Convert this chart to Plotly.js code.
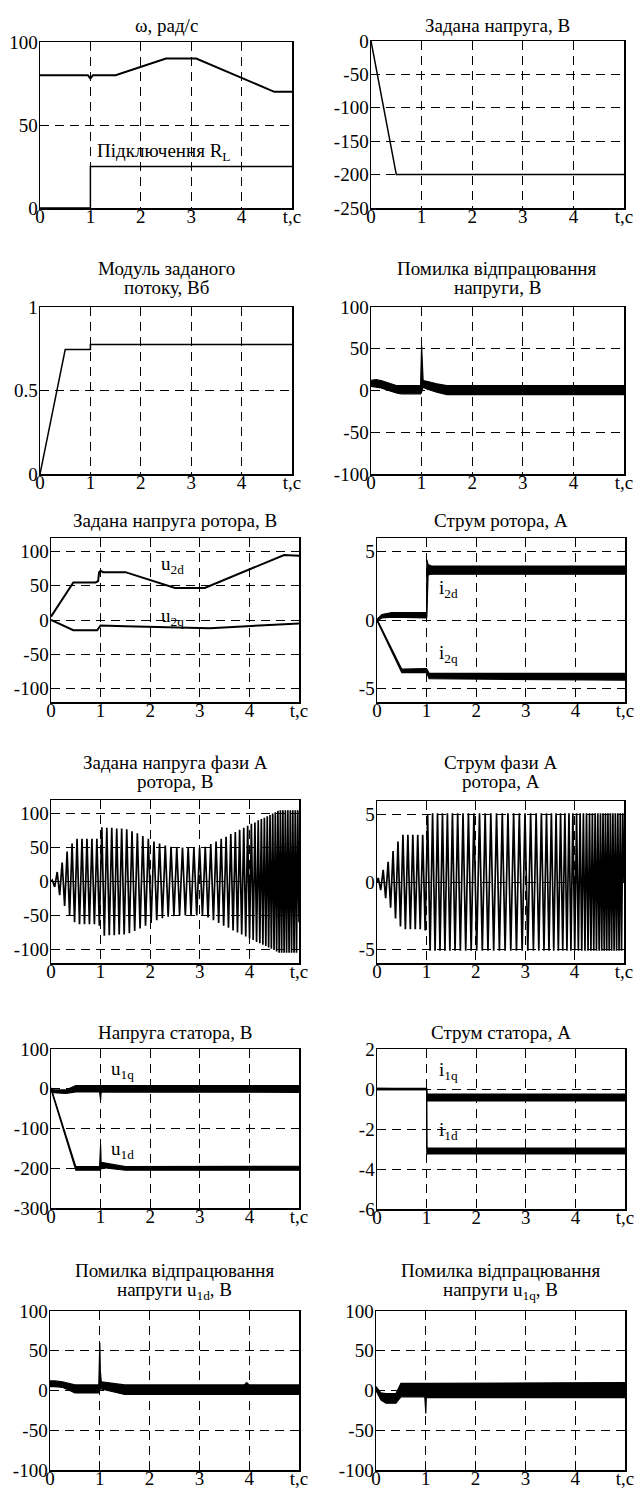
<!DOCTYPE html>
<html><head><meta charset="utf-8">
<script src="https://cdn.plot.ly/plotly-3.0.1.min.js"></script>
<style>html,body{margin:0;padding:0;background:#fff;}#plot{width:637px;height:1491px;}</style>
</head><body><div id="plot"></div>
<script>
// ---------- DATA ----------
const xTickVals = [0, 1, 2, 3, 4, 5];
const xTickText = ['0', '1', '2', '3', '4', 't,c'];

// 1: speed and load connection
const t_w = [0, 0.2, 0.5, 0.95, 1.0, 1.05, 1.5, 2.5, 3.1, 4.65, 5];
const w = [80, 80, 80, 80, 78, 80, 80, 90, 90, 70, 70];
const t_RL = [0, 1, 1, 5];
const RL = [0, 0, 25, 25];

// 2: reference voltage
const t_us = [0, 0.5, 5];
const u_s = [0, -200, -200];

// 3: flux reference
const t_psi = [0, 0.5, 1.0, 1.0, 5];
const psi = [0, 0.745, 0.745, 0.775, 0.775];

// 4: voltage error band
const t_eu = [0, 0.1, 0.2, 0.3, 0.4, 0.5, 0.6, 0.98, 1.0, 1.01, 1.03, 1.1, 1.3, 1.5, 2, 3, 4, 5];
const eu_hi = [12, 13, 12, 10, 8, 6, 6, 6, 54, 30, 12, 11, 8, 6, 6, 6, 6, 6];
const eu_lo = [5, 4, 3, 1, -1, -3, -4, -4, -2, 2, 4, 2, -2, -5, -5, -5, -5, -5];

// 5: rotor voltage reference
const t_u2d = [0, 0.45, 0.9, 0.95, 0.97, 1.0, 1.05, 1.5, 2.5, 3.1, 4.7, 5];
const u2d = [5, 55, 55, 57, 70, 72, 70, 70, 47, 47, 95, 94];
const t_u2q = [0, 0.45, 0.93, 1.0, 1.5, 2.5, 3.2, 4.2, 5];
const u2q = [0, -15, -15, -8, -9, -11, -12, -8, -5];

// 6: rotor current bands
const t_i2d = [0, 0.1, 0.3, 1.0, 1.005, 1.03, 1.1, 5];
const i2d_hi = [0.05, 0.4, 0.55, 0.55, 4.4, 4.05, 3.95, 3.95];
const i2d_lo = [-0.05, 0.15, 0.2, 0.15, 0.3, 3.3, 3.35, 3.35];
const t_i2q = [0, 0.5, 1.0, 1.05, 5];
const i2q_hi = [0.05, -3.6, -3.55, -3.9, -3.9];
const i2q_lo = [-0.05, -3.85, -3.85, -4.3, -4.4];

// 7, 8: phase A rotor voltage reference and current (extrema)
const t_ph = [0, 0.025, 0.075, 0.125, 0.175, 0.225, 0.275, 0.325, 0.375, 0.425, 0.475, 0.525, 0.575, 0.625, 0.675, 0.725, 0.775, 0.825, 0.875, 0.925, 0.975, 1.025, 1.075, 1.125, 1.175, 1.225, 1.275, 1.325, 1.375, 1.425, 1.475,
  1.527, 1.580, 1.633, 1.687, 1.741, 1.796, 1.851, 1.906, 1.962, 2.018, 2.075, 2.132, 2.189, 2.246, 2.304, 2.362, 2.420, 2.478,
  2.536, 2.593, 2.651, 2.708, 2.766, 2.823, 2.881, 2.938, 2.996, 3.053,
  3.110, 3.166, 3.221, 3.275, 3.328, 3.380, 3.431, 3.481, 3.530, 3.578, 3.625, 3.671, 3.716, 3.760, 3.803, 3.845, 3.886, 3.926, 3.965, 4.003, 4.040, 4.076, 4.111, 4.145, 4.178, 4.210, 4.241, 4.272, 4.302, 4.331, 4.360, 4.388, 4.416, 4.443, 4.470, 4.497, 4.523, 4.549, 4.575, 4.600, 4.625, 4.650, 4.675, 4.700,
  4.725, 4.750, 4.775, 4.800, 4.825, 4.850, 4.875, 4.900, 4.925, 4.950, 4.975, 5.0];
const u2a = [0, 2, -8, 14, -20, 28, -36, 44, -50, 56, -60, 63, -63, 63, -63, 63, -63, 63, -63, 63, -65, 80, -80, 79, -79, 79, -79, 78, -78, 78, -78,
  77, -76, 74, -73, 71, -69, 67, -65, 63, -61, 59, -57, 56, -54, 53, -52, 51, -51,
  50, -50, 50, -50, 50, -50, 50, -50, 50, -50,
  51, -53, 55, -57, 59, -61, 63, -65, 66, -68, 70, -72, 73, -75, 76, -78, 79, -81, 82, -84, 85, -86, 87, -89, 90, -91, 92, -93, 94, -95, 96, -97, 98, -99, 100, -101, 102, -103, 104, -105, 105, -105, 105, -105,
  105, -105, 105, -105, 105, -105, 105, -105, 105, -105, 105, -60];
const i2a = [0, 0.3, -0.6, 0.9, -1.2, 1.5, -1.9, 2.3, -2.7, 3.0, -3.3, 3.5, -3.5, 3.5, -3.5, 3.5, -3.5, 3.5, -3.5, 3.5, -3.6, 5.0, -5.1, 5.1, -5.1, 5.1, -5.1, 5.1, -5.1, 5.1, -5.1,
  5.1, -5.1, 5.1, -5.1, 5.1, -5.1, 5.1, -5.1, 5.1, -5.1, 5.1, -5.1, 5.1, -5.1, 5.1, -5.1, 5.1, -5.1,
  5.1, -5.1, 5.1, -5.1, 5.1, -5.1, 5.1, -5.1, 5.1, -5.1,
  5.1, -5.1, 5.1, -5.1, 5.1, -5.1, 5.1, -5.1, 5.1, -5.1, 5.1, -5.1, 5.1, -5.1, 5.1, -5.1, 5.1, -5.1, 5.1, -5.1, 5.1, -5.1, 5.1, -5.1, 5.1, -5.1, 5.1, -5.1, 5.1, -5.1, 5.1, -5.1, 5.1, -5.1, 5.1, -5.1, 5.1, -5.1, 5.1, -5.1, 5.1, -5.1, 5.1, -5.1,
  5.1, -5.1, 5.1, -5.1, 5.1, -5.1, 5.1, -5.1, 5.1, -5.1, 5.1, 0];

// 9: stator voltage bands
const t_u1q = [0, 0.05, 0.3, 0.5, 0.98, 1.0, 1.01, 5];
const u1q_hi = [2, -3, -3, 8, 8, 8, 8, 8];
const u1q_lo = [-2, -10, -12, -8, -8, -28, -8, -9];
const t_u1d = [0, 0.5, 0.98, 1.0, 1.01, 1.5, 5];
const u1d_hi = [2, -196, -196, -141, -185, -196, -195];
const u1d_lo = [-2, -205, -205, -205, -198, -205, -205];

// 10: stator current bands
const t_i1q = [0, 1.0, 1.005, 5];
const i1q_hi = [0.03, 0.03, -0.25, -0.25];
const i1q_lo = [-0.03, -0.03, -0.6, -0.6];
const t_i1d = [0, 1.0, 1.005, 5];
const i1d_hi = [0.03, 0.0, -2.95, -2.95];
const i1d_lo = [-0.03, -0.03, -3.25, -3.25];

// 11: u1d error band
const t_e1d = [0, 0.1, 0.25, 0.5, 0.98, 1.0, 1.01, 1.03, 1.5, 3.9, 3.95, 4.0, 5];
const e1d_hi = [12, 12, 11, 7, 7, 60, 25, 11, 7, 7, 10, 7, 7];
const e1d_lo = [5, 5, 4, -3, -3, 0, 2, 2, -5, -5, -5, -5, -5];

// 12: u1q error band
const t_e1q = [0, 0.1, 0.2, 0.4, 0.5, 0.98, 1.0, 1.01, 5];
const e1q_hi = [5, -3, -4, -4, 9, 9, 9, 9, 10];
const e1q_lo = [0, -12, -16, -16, -8, -8, -29, -9, -9];

// ---------- RENDERING ----------
const W = 637, H = 1491;
const FONT = '"Liberation Serif", "Times New Roman", Times, serif';
const FS = 19;
const BLK = '#000';

const boxes = [
  [40, 292, 42, 208], [371, 624, 41, 208],
  [40, 292, 307, 474], [371, 624, 307, 474],
  [51, 299, 538, 702], [377, 625, 538, 702],
  [51, 299, 800, 963], [377, 624, 801, 963],
  [51, 299, 1049, 1208], [377, 625, 1049, 1209],
  [50, 299, 1311, 1470], [376, 625, 1311, 1470]
];
const yRanges = [[0, 100], [-250, 0], [0, 1], [-100, 100], [-120, 120], [-6, 6], [-120, 120], [-6, 6], [-300, 100], [-6, 2], [-100, 100], [-100, 100]];
const yTicks = [[0, 50, 100], [-250, -200, -150, -100, -50, 0], [0, 0.5, 1], [-100, -50, 0, 50, 100], [-100, -50, 0, 50, 100], [-5, 0, 5],
  [-100, -50, 0, 50, 100], [-5, 0, 5], [-300, -200, -100, 0, 100], [-6, -4, -2, 0, 2], [-100, -50, 0, 50, 100], [-100, -50, 0, 50, 100]];
const titles = [
  [['ω, рад/с', 25]], [['Задана напруга, В', 25]],
  [['Модуль заданого', 268], ['потоку, Вб', 287]], [['Помилка відпрацювання', 268], ['напруги, В', 287]],
  [['Задана напруга ротора, В', 520]], [['Струм ротора, А', 520]],
  [['Задана напруга фази А', 763], ['ротора, В', 782]], [['Струм фази А', 762], ['ротора, А', 782]],
  [['Напруга статора, В', 1032]], [['Струм статора, А', 1032]],
  [['Помилка відпрацювання', 1270], ['напруги u<sub>1d</sub>, В', 1291]], [['Помилка відпрацювання', 1270], ['напруги u<sub>1q</sub>, В', 1291]]
];

const layout = {
  width: W, height: H, margin: {l: 0, r: 0, t: 0, b: 0},
  paper_bgcolor: '#fff', plot_bgcolor: '#fff', showlegend: false,
  font: {family: FONT, size: FS, color: BLK},
  annotations: []
};
const axCommon = {
  showgrid: true, gridcolor: BLK, gridwidth: 1, griddash: '9px,6px',
  zeroline: false, showline: true, mirror: true, linecolor: BLK, linewidth: 1.5,
  ticks: '', tickfont: {family: FONT, size: FS, color: BLK}, fixedrange: true
};
boxes.forEach((b, k) => {
  const i = k + 1, s = i === 1 ? '' : String(i);
  layout['xaxis' + s] = Object.assign({}, axCommon, {
    domain: [b[0] / W, b[1] / W], range: [0, 5], anchor: 'y' + s,
    tickmode: 'array', tickvals: xTickVals, ticktext: xTickText, ticklabelstandoff: -9
  });
  layout['yaxis' + s] = Object.assign({}, axCommon, {
    domain: [1 - b[3] / H, 1 - b[2] / H], range: yRanges[k], anchor: 'x' + s,
    tickmode: 'array', tickvals: yTicks[k], ticktext: yTicks[k].map(v => String(v)), ticklabelstandoff: -3
  });
  titles[k].forEach(([txt, yc]) => {
    layout.annotations.push({
      text: txt, xref: 'paper', yref: 'paper', x: (b[0] + b[1]) / 2 / W, y: 1 - yc / H,
      xanchor: 'center', yanchor: 'middle', showarrow: false, font: {family: FONT, size: FS, color: BLK}
    });
  });
});

function ids(i) { const s = i === 1 ? '' : String(i); return {xaxis: 'x' + s, yaxis: 'y' + s}; }
function line(i, x, y, wdt) {
  return Object.assign({type: 'scatter', mode: 'lines', x: x, y: y, line: {color: BLK, width: wdt || 1.5}, hoverinfo: 'skip'}, ids(i));
}
function band(i, x, hi, lo) {
  return [
    Object.assign({type: 'scatter', mode: 'lines', x: x, y: hi, line: {color: BLK, width: 1.2}, hoverinfo: 'skip'}, ids(i)),
    Object.assign({type: 'scatter', mode: 'lines', x: x, y: lo, line: {color: BLK, width: 1.2}, fill: 'tonexty', fillcolor: BLK, hoverinfo: 'skip'}, ids(i))
  ];
}

const data = [
  line(1, t_w, w, 2), line(1, t_RL, RL, 1.5),
  line(2, t_us, u_s, 1.5),
  line(3, t_psi, psi, 1.5),
  ...band(4, t_eu, eu_hi, eu_lo),
  line(5, t_u2d, u2d, 2), line(5, t_u2q, u2q, 2),
  ...band(6, t_i2d, i2d_hi, i2d_lo), ...band(6, t_i2q, i2q_hi, i2q_lo),
  line(7, t_ph, u2a, 1.7),
  line(8, t_ph, i2a, 1.7),
  ...band(9, t_u1q, u1q_hi, u1q_lo), ...band(9, t_u1d, u1d_hi, u1d_lo),
  ...band(10, t_i1q, i1q_hi, i1q_lo), ...band(10, t_i1d, i1d_hi, i1d_lo),
  ...band(11, t_e1d, e1d_hi, e1d_lo),
  ...band(12, t_e1q, e1q_hi, e1q_lo)
];

// in-plot labels
const labels = [
  [1, 2.45, 34, 'Підключення R<sub>L</sub>'],
  [5, 2.45, 80, 'u<sub>2d</sub>'], [5, 2.45, 5, 'u<sub>2q</sub>'],
  [6, 1.45, 2.3, 'i<sub>2d</sub>'], [6, 1.45, -2.5, 'i<sub>2q</sub>'],
  [9, 1.45, 48, 'u<sub>1q</sub>'], [9, 1.45, -155, 'u<sub>1d</sub>'],
  [10, 1.45, 0.9, 'i<sub>1q</sub>'], [10, 1.45, -2.1, 'i<sub>1d</sub>']
];
labels.forEach(([i, x, y, txt]) => {
  const s = i === 1 ? '' : String(i);
  layout.annotations.push({text: txt, xref: 'x' + s, yref: 'y' + s, x: x, y: y, xanchor: 'center', yanchor: 'middle',
    showarrow: false, font: {family: FONT, size: FS, color: BLK}});
});

Plotly.newPlot('plot', data, layout, {staticPlot: true, displayModeBar: false});
</script>
</body></html>
